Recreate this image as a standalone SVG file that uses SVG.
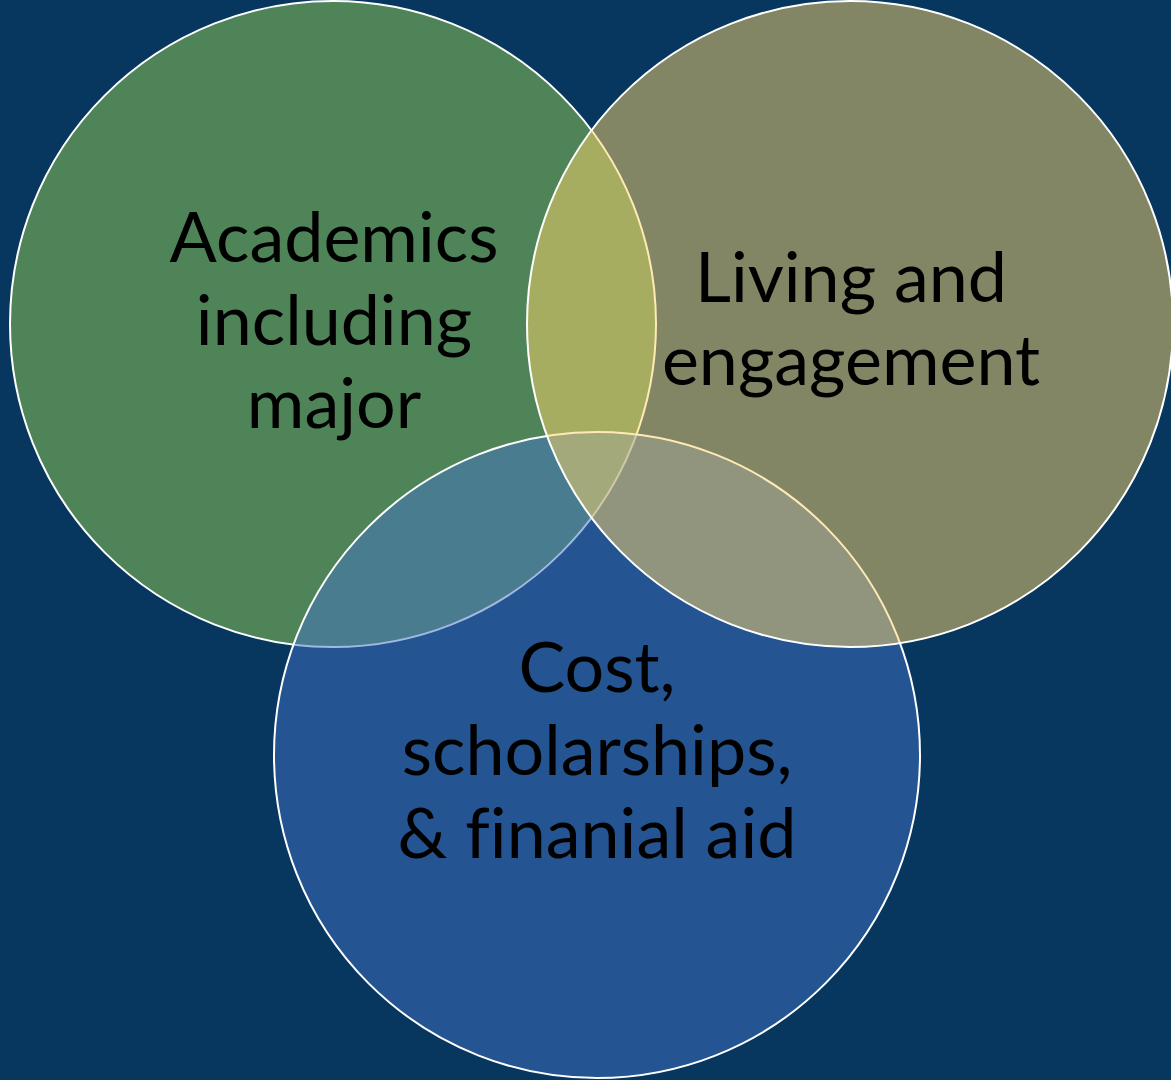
<svg xmlns="http://www.w3.org/2000/svg" width="1171" height="1080" viewBox="0 0 1171 1080">
  <style>
    .c { fill-opacity: 0.5; stroke: #ffffff; stroke-width: 2; }
    .t { font-family: Lato, "Open Sans", "Liberation Sans", sans-serif; font-size: 70px; fill: #000000; text-anchor: middle; font-variant-ligatures: none; font-feature-settings: "liga" 0; }
  </style>
  <rect x="0" y="0" width="1171" height="1080" fill="#07365f"/>
  <g id="academics">
    <circle class="c" cx="333" cy="324" r="323" fill="#95d24f"/>
  </g>
  <g id="cost">
    <circle class="c" cx="597" cy="755" r="323" fill="#4174c5"/>
  </g>
  <g id="living">
    <circle class="c" cx="850" cy="324" r="323" fill="#ffd669"/>
  </g>
  <g id="labels">
    <text class="t" x="334" y="262">Academics</text>
    <text class="t" x="334" y="345">including</text>
    <text class="t" x="334" y="428">major</text>
    <text class="t" x="851" y="302">Living and</text>
    <text class="t" x="851" y="385">engagement</text>
    <text class="t" x="597" y="692">Cost,</text>
    <text class="t" x="597" y="775">scholarships,</text>
    <text class="t" x="597" y="858">&amp; finanial aid</text>
  </g>
</svg>
